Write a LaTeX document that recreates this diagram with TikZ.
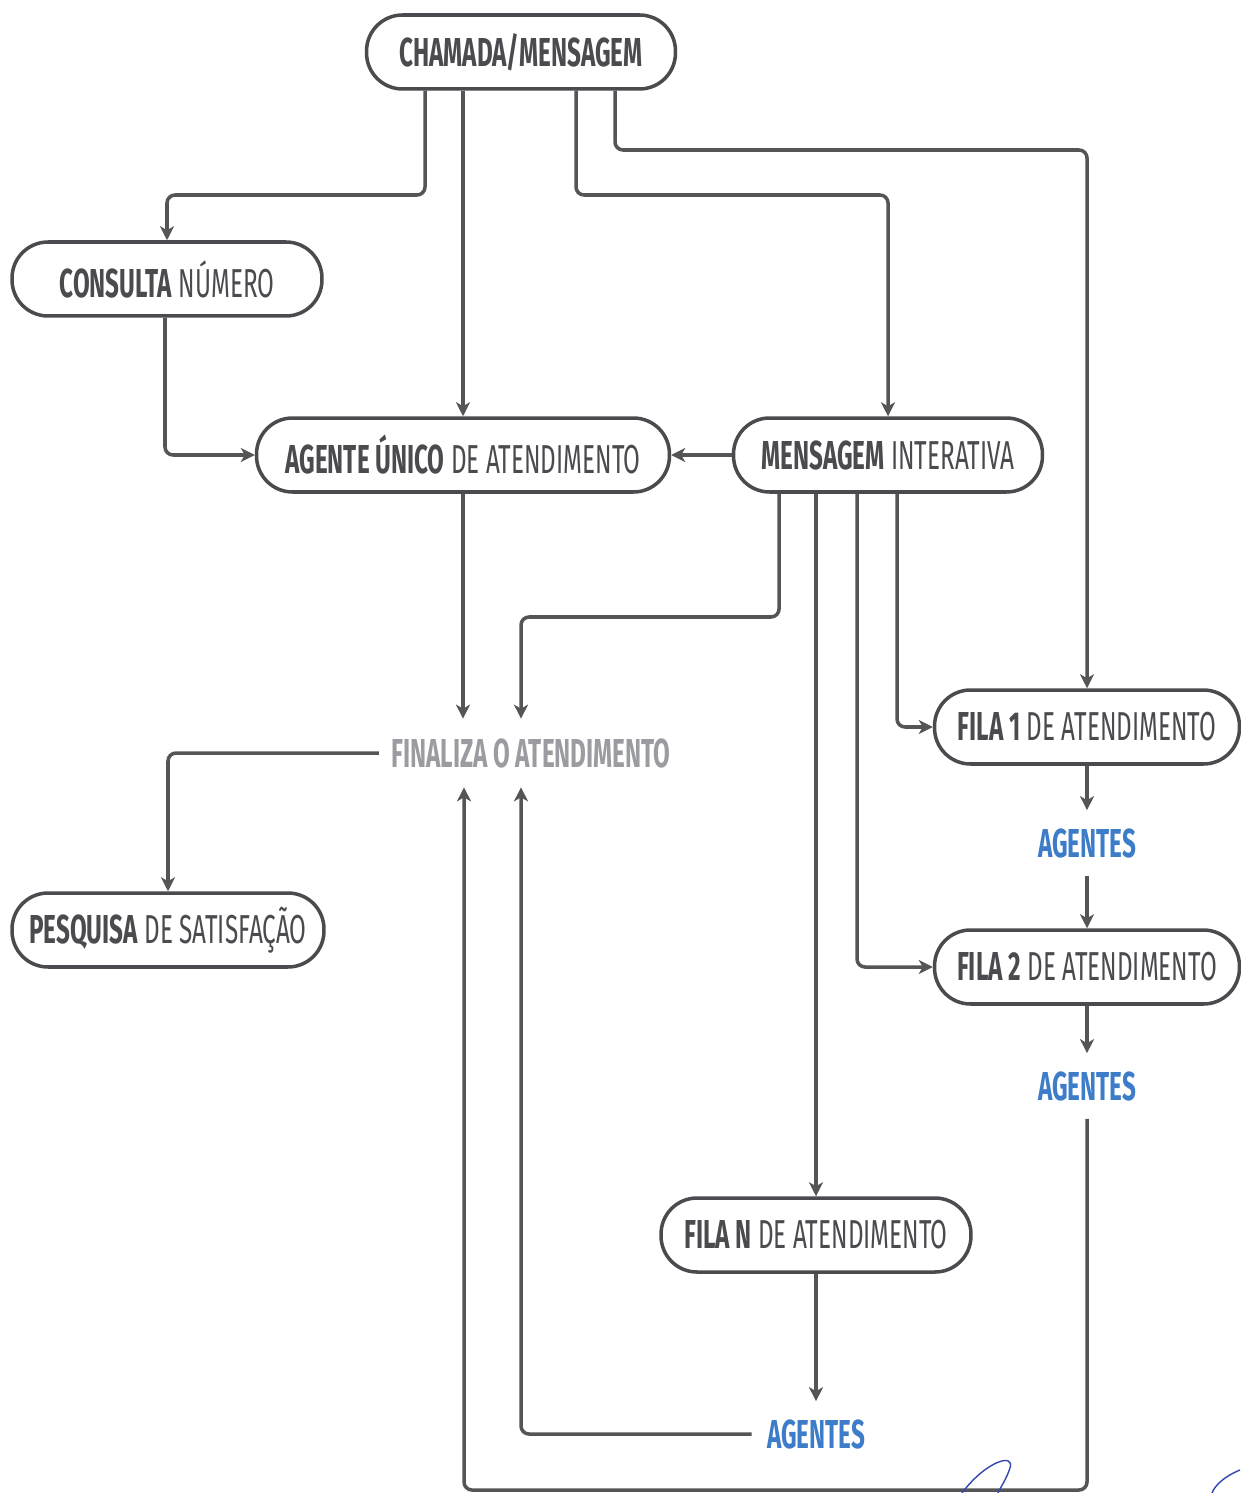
\documentclass[tikz,border=0pt]{standalone}
\usepackage{fontspec}
\setmainfont[FakeStretch=0.6]{Fira Sans}
\usetikzlibrary{arrows.meta}
\definecolor{ink}{HTML}{4A4A4F}
\definecolor{lineg}{HTML}{555558}
\definecolor{agblue}{HTML}{3D7CC9}
\definecolor{fingray}{HTML}{9B9CA1}
\definecolor{sig}{HTML}{3347B0}
\tikzset{
  pill/.style={draw=ink, line width=2pt, rounded corners=0.72cm, minimum height=1.48cm,
    inner xsep=0.3cm, text=ink, font=\fontsize{23}{25}\selectfont, fill=white},
  agtext/.style={text=agblue, font=\fontsize{23}{25}\selectfont\bfseries, minimum height=1.3cm, inner xsep=0.3cm},
  fintext/.style={text=fingray, font=\fontsize{23}{25}\selectfont\bfseries, minimum height=1.36cm, inner xsep=0.24cm},
  conn/.style={draw=lineg, line width=2pt, rounded corners=0.16cm,
    -{Stealth[length=0.28cm,width=0.28cm,inset=0.08cm]}}
}
\begin{document}
\begin{tikzpicture}[x=0.02cm,y=-0.02cm]
\useasboundingbox[fill=white] (0,0) rectangle (1240,1493);

\node[pill, minimum width=6.18cm] (cham) at (521,52) {\textbf{CHAMADA/MENSAGEM}};
\node[pill, minimum width=6.2cm] (cons) at (167,279) {\textbf{CONSULTA} NÚMERO};
\node[pill, minimum width=8.26cm] (agu) at (463,455) {\textbf{AGENTE ÚNICO} DE ATENDIMENTO};
\node[pill, minimum width=6.18cm] (msg) at (888,455) {\textbf{MENSAGEM} INTERATIVA};
\node[fintext] (fin) at (531,753) {FINALIZA O ATENDIMENTO};
\node[pill, minimum width=6.1cm] (f1) at (1087,727) {\textbf{FILA 1} DE ATENDIMENTO};
\node[agtext] (ag1) at (1087,843) {AGENTES};
\node[pill, minimum width=6.1cm] (f2) at (1087,967) {\textbf{FILA 2} DE ATENDIMENTO};
\node[agtext] (ag2) at (1087,1086) {AGENTES};
\node[pill, minimum width=6.2cm] (fN) at (816,1235) {\textbf{FILA N} DE ATENDIMENTO};
\node[agtext] (agN) at (816,1434) {AGENTES};
\node[pill, minimum width=6.24cm] (pesq) at (168,930) {\textbf{PESQUISA} DE SATISFAÇÃO};

% from CHAMADA
\draw[conn] (cham.south -| 425,0) |- (167,195) -- (cons.north);
\draw[conn] (cham.south -| 463,0) -- (agu.north);
\draw[conn] (cham.south -| 576,0) |- (888,195) -- (msg.north);
\draw[conn] (cham.south -| 615,0) |- (1087,150) -- (f1.north);
% consulta -> agente
\draw[conn] (cons.south -| 165,0) |- (agu.west);
% mensagem -> agente
\draw[conn] (msg.west) -- (agu.east);
% to finaliza
\draw[conn] (agu.south) -- (fin.north -| 463,0);
\draw[conn] (msg.south -| 779,0) |- (521,617) -- (fin.north -| 521,0);
% mensagem to filas
\draw[conn] (msg.south -| 816,0) -- (fN.north);
\draw[conn] (msg.south -| 857,0) |- (f2.west);
\draw[conn] (msg.south -| 897,0) |- (f1.west);
% filas to agentes
\draw[conn] (f1.south) -- (ag1.north);
\draw[conn] (ag1.south) -- (f2.north);
\draw[conn] (f2.south) -- (ag2.north);
\draw[conn] (fN.south) -- (agN.north);
% back to finaliza
\draw[conn] (ag2.south) |- (464,1490) -- (fin.south -| 464,0);
\draw[conn] (agN.west) -| (fin.south -| 521,0);
% finaliza -> pesquisa
\draw[conn] (fin.west) -| (pesq.north);

% signature strokes
\draw[sig, line width=0.8pt] (962,1493) .. controls (985,1462) and (1015,1452) .. (1010,1468) .. controls (1006,1480) and (1000,1488) .. (998,1493);
\draw[sig, line width=0.8pt] (1240,1470) .. controls (1225,1476) and (1215,1485) .. (1212,1493);
\end{tikzpicture}
\end{document}
